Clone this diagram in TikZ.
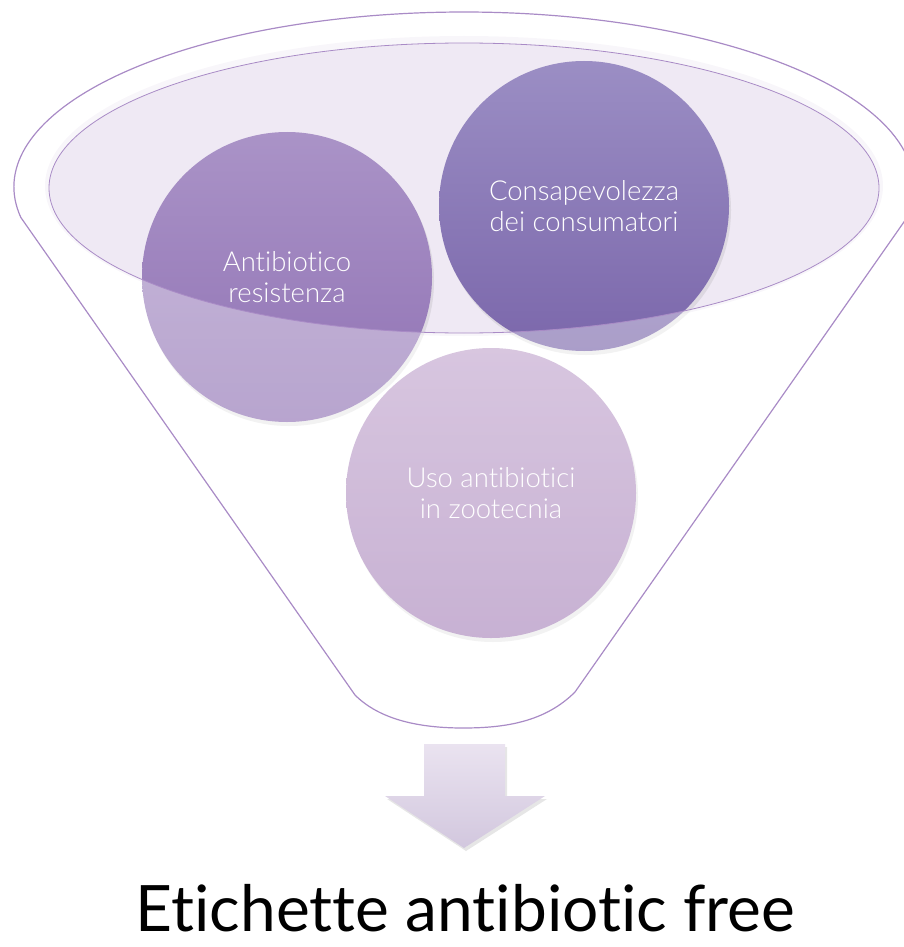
\documentclass[tikz,border=0pt]{standalone}
\usepackage{fontspec}
\setmainfont{Lato}[Ligatures=NoCommon]
\newfontfamily\lightfont{Lato Light}[Ligatures=NoCommon]
\usetikzlibrary{shadows}
\definecolor{rim}{HTML}{A98BC6}
\definecolor{mouth}{HTML}{EFE9F4}
\definecolor{cAtop}{HTML}{AA93C7}
\definecolor{cAbot}{HTML}{9072B4}
\definecolor{cBtop}{HTML}{9B8EC4}
\definecolor{cBbot}{HTML}{7B67AB}
\definecolor{cCtop}{HTML}{C2A6CE}
\definecolor{cCbot}{HTML}{A986BB}
\definecolor{arrtop}{HTML}{EAE3F0}
\definecolor{arrbot}{HTML}{D2C7DE}
\begin{document}
\begin{tikzpicture}[x=1pt,y=-1pt,
  bubble/.style={circle, minimum size=290pt, inner sep=0pt, align=center,
    text=white, font=\lightfont\fontsize{27.5}{31}\selectfont,
    drop shadow={opacity=0.16, shadow xshift=2pt, shadow yshift=-4pt}},
  rimline/.style={draw=rim, line width=1.2pt},
  mouthline/.style={draw=rim, line width=0.8pt}]
\useasboundingbox (0,0) rectangle (904,947);
\clip (0,0) rectangle (904,947);
% soft halo and mouth of the funnel
\fill[mouth!60] (464,186) ellipse [x radius=419, y radius=150];
\fill[mouth] (464,188) ellipse [x radius=415, y radius=145];
% circles
\node[bubble, top color=cAtop, bottom color=cAbot] (resist) at (287,277) {Antibiotico\\resistenza};
\node[bubble, top color=cBtop, bottom color=cBbot] (consum) at (584,206) {Consapevolezza\\dei consumatori};
\node[bubble, top color=cCtop, bottom color=cCbot] (zoo) at (491,493) {Uso antibiotici\\in zootecnia};
% translucent funnel body
\fill[white, opacity=0.36, even odd rule]
  (20.8,217.4) arc[start angle=170, end angle=370, x radius=450, y radius=175]
  -- (575,692) .. controls (545,722) and (505,728) .. (463,728)
  .. controls (420,728) and (380,720) .. (355,695) -- cycle
  (464,188) ellipse [x radius=415, y radius=145];
% outlines
\draw[rimline, line join=round]
  (20.8,217.4) arc[start angle=170, end angle=370, x radius=450, y radius=175]
  -- (575,692) .. controls (545,722) and (505,728) .. (463,728)
  .. controls (420,728) and (380,720) .. (355,695) -- cycle;
\draw[mouthline] (464,188) ellipse [x radius=415, y radius=145];
% arrow
\path[top color=arrtop, bottom color=arrbot,
  drop shadow={opacity=0.2, shadow xshift=2pt, shadow yshift=-3pt}]
  (424,744) -- (505,744) -- (505,796) -- (545,796) -- (464,848)
  -- (385,796) -- (424,796) -- cycle;
% result
\node[font=\fontsize{64}{70}\selectfont, text=black, anchor=base, inner sep=0pt] (label) at (465.5,931) {Etichette antibiotic free};
\end{tikzpicture}
\end{document}
